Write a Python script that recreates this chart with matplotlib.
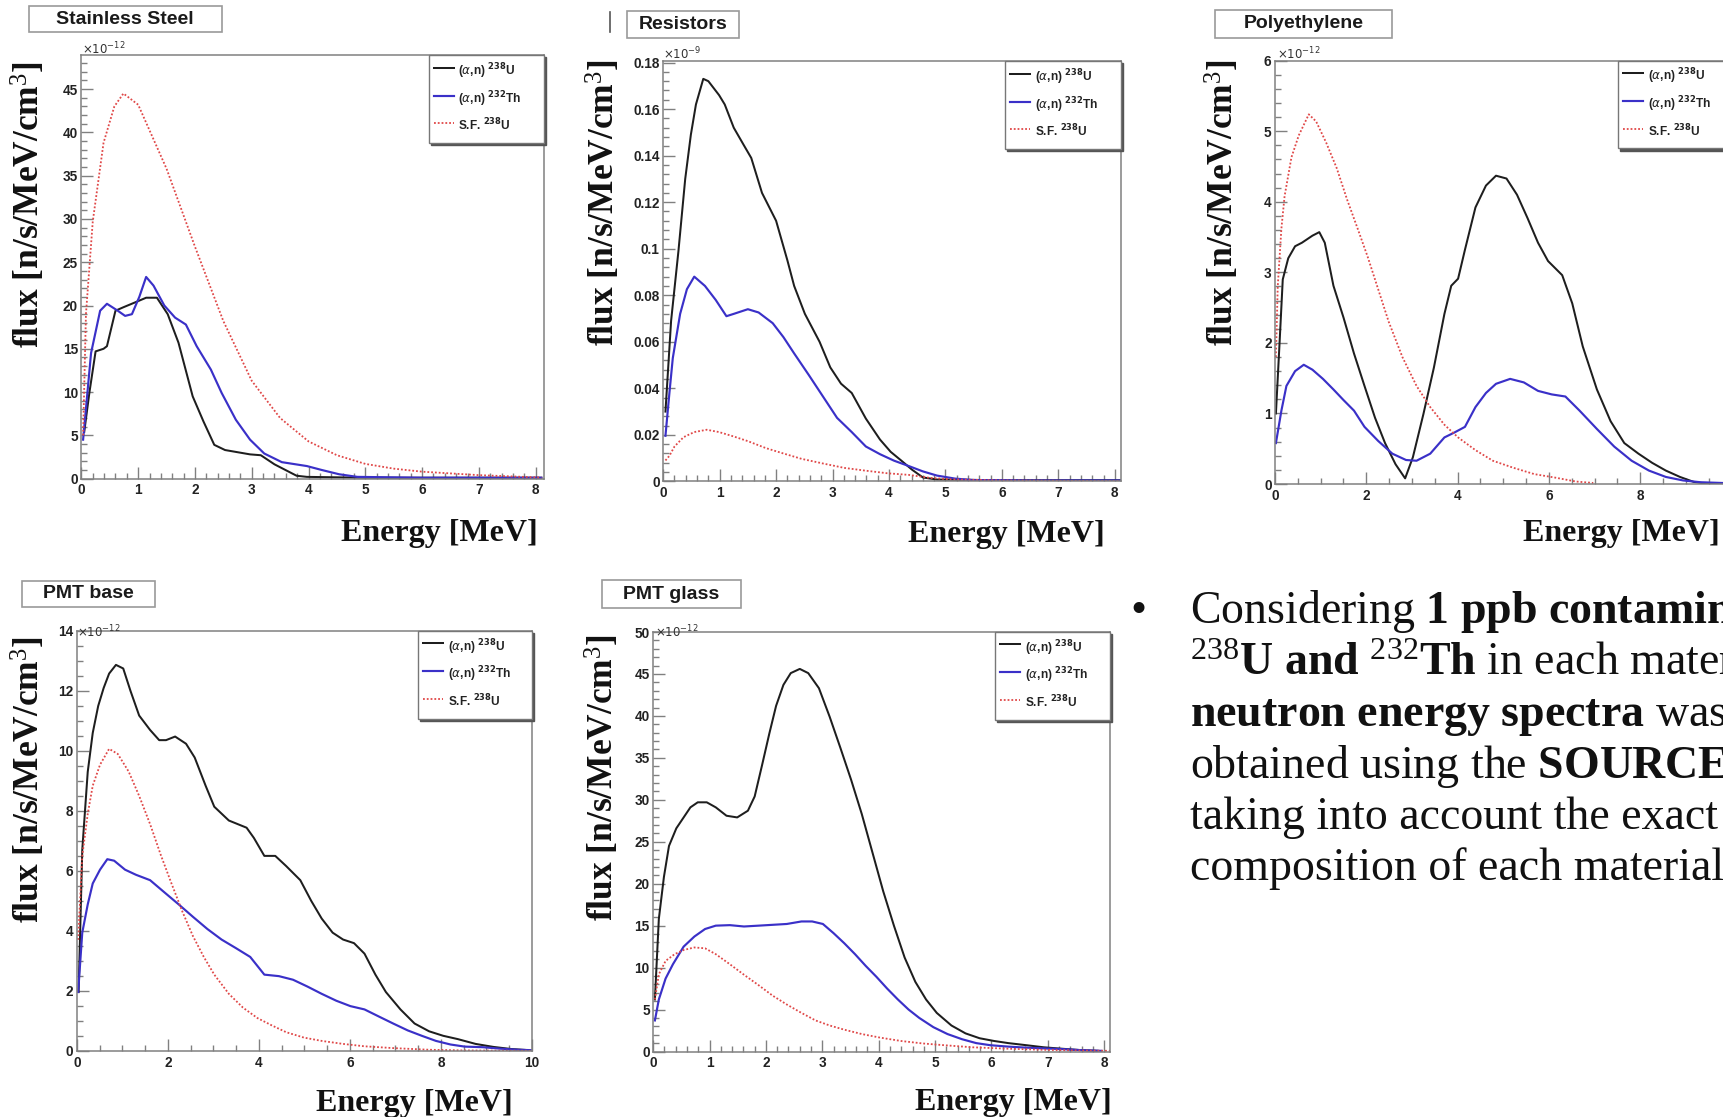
import matplotlib
matplotlib.use("Agg")
import matplotlib.pyplot as plt
from matplotlib.patches import Rectangle
from matplotlib.lines import Line2D
from matplotlib.ticker import MultipleLocator, FuncFormatter
from matplotlib.font_manager import FontProperties

plt.rcParams['mathtext.fontset'] = 'custom'
plt.rcParams['mathtext.rm'] = 'Liberation Serif'
plt.rcParams['mathtext.bf'] = 'Liberation Serif:bold'
plt.rcParams['mathtext.it'] = 'Liberation Serif:italic'
plt.rcParams['font.family'] = 'Liberation Sans'

# ---------------- data ----------------
series_labels = [r"($\alpha$,n) $^{\mathbf{238}}$U",
                 r"($\alpha$,n) $^{\mathbf{232}}$Th",
                 r"S.F. $^{\mathbf{238}}$U"]

# Stainless Steel (x1e-12)
ss_u238_E = [0.05, 0.14, 0.25, 0.39, 0.45, 0.60, 0.74, 0.96, 1.14, 1.33, 1.52, 1.71, 1.96, 2.15, 2.34, 2.53,
             2.97, 3.16, 3.40, 3.79, 3.97, 5.0, 6.0, 7.0, 8.1]
ss_u238 = [5.4, 9.9, 14.7, 15.0, 15.3, 19.4, 19.8, 20.4, 20.9, 20.9, 19.0, 15.7, 9.5, 6.6, 3.9, 3.3,
           2.8, 2.7, 1.65, 0.33, 0.2, 0.1, 0.1, 0.1, 0.1]
ss_th232_E = [0.03, 0.17, 0.33, 0.45, 0.64, 0.77, 0.89, 1.02, 1.14, 1.27, 1.46, 1.65, 1.84, 2.03, 2.28, 2.47,
              2.72, 2.97, 3.22, 3.53, 3.97, 4.23, 4.54, 4.86, 6.0, 7.0, 8.1]
ss_th232 = [4.5, 14.5, 19.4, 20.2, 19.4, 18.8, 19.0, 21.0, 23.3, 22.3, 20.0, 18.6, 17.8, 15.3, 12.6, 9.9,
            6.8, 4.5, 2.9, 1.9, 1.45, 1.0, 0.5, 0.2, 0.1, 0.1, 0.1]
ss_sf_E = [0.03, 0.08, 0.2, 0.39, 0.58, 0.74, 1.0, 1.25, 1.5, 2.0, 2.5, 3.0, 3.5, 4.0, 4.5, 5.0, 5.5, 6.0, 7.0, 8.1]
ss_sf = [5.0, 19.0, 29.7, 38.8, 43.0, 44.5, 43.2, 39.5, 35.8, 26.8, 18.2, 11.3, 7.0, 4.3, 2.7, 1.7, 1.15, 0.8, 0.4, 0.12]

# Resistors (x1e-9)
res_u238_E = [0.04, 0.14, 0.27, 0.39, 0.49, 0.58, 0.71, 0.80, 0.99, 1.09, 1.25, 1.44, 1.56, 1.75, 2.0, 2.2,
              2.32, 2.51, 2.77, 2.96, 3.15, 3.34, 3.59, 3.84, 4.03, 4.22, 4.41, 4.6, 4.85, 6.0, 8.1]
res_u238 = [0.030, 0.069, 0.099, 0.130, 0.149, 0.162, 0.173, 0.172, 0.166, 0.162, 0.152, 0.144, 0.139, 0.124,
            0.112, 0.095, 0.084, 0.072, 0.060, 0.049, 0.042, 0.038, 0.027, 0.018, 0.0127, 0.0089, 0.005,
            0.0017, 0.0008, 0.0005, 0.0005]
res_th232_E = [0.04, 0.11, 0.17, 0.3, 0.42, 0.55, 0.74, 0.93, 1.12, 1.25, 1.5, 1.69, 1.94, 2.13, 2.32, 2.58,
               2.83, 3.08, 3.34, 3.59, 3.84, 4.09, 4.35, 4.6, 4.85, 5.17, 5.49, 6.5, 8.1]
res_th232 = [0.0196, 0.038, 0.053, 0.072, 0.0826, 0.088, 0.084, 0.078, 0.071, 0.072, 0.074, 0.0726, 0.068,
             0.062, 0.055, 0.0457, 0.0365, 0.0273, 0.0212, 0.015, 0.0117, 0.0089, 0.0066, 0.0043, 0.0025,
             0.0012, 0.0006, 0.0004, 0.0004]
res_sf_E = [0.04, 0.11, 0.2, 0.36, 0.55, 0.77, 0.99, 1.25, 1.5, 1.82, 2.13, 2.45, 2.83, 3.21, 3.59, 3.97, 4.35,
            4.73, 5.1, 6.0, 8.1]
res_sf = [0.009, 0.011, 0.015, 0.019, 0.0212, 0.0222, 0.0212, 0.0193, 0.0173, 0.0143, 0.012, 0.0097, 0.0077,
          0.0058, 0.0046, 0.0035, 0.0028, 0.0015, 0.0009, 0.0004, 0.0001]

# Polyethylene (x1e-12)
poly_u238_E = [0.02, 0.10, 0.17, 0.29, 0.44, 0.59, 0.82, 0.97, 1.09, 1.28, 1.5, 1.73, 1.96, 2.19, 2.41, 2.64,
               2.85, 3.02, 3.25, 3.48, 3.71, 3.86, 4.01, 4.16, 4.39, 4.62, 4.84, 5.07, 5.3, 5.53, 5.76, 5.98,
               6.29, 6.51, 6.74, 7.05, 7.35, 7.65, 7.96, 8.26, 8.56, 8.87, 9.17, 9.5, 10.0]
poly_u238 = [1.0, 2.0, 2.9, 3.2, 3.37, 3.42, 3.52, 3.57, 3.42, 2.81, 2.36, 1.85, 1.39, 0.94, 0.58, 0.28,
             0.08, 0.38, 0.99, 1.65, 2.41, 2.81, 2.91, 3.32, 3.92, 4.23, 4.37, 4.33, 4.1, 3.77, 3.42, 3.16,
             2.96, 2.56, 1.95, 1.34, 0.89, 0.58, 0.43, 0.3, 0.19, 0.1, 0.03, 0.0, 0.0]
poly_th232_E = [0.02, 0.14, 0.25, 0.44, 0.63, 0.82, 1.05, 1.28, 1.5, 1.73, 1.96, 2.26, 2.57, 2.87, 3.1, 3.4,
                3.71, 3.93, 4.16, 4.39, 4.62, 4.84, 5.15, 5.45, 5.76, 6.06, 6.36, 6.67, 7.05, 7.43, 7.81,
                8.19, 8.56, 8.94, 9.32, 10.0]
poly_th232 = [0.58, 1.04, 1.39, 1.6, 1.69, 1.62, 1.49, 1.34, 1.19, 1.04, 0.81, 0.61, 0.43, 0.34, 0.33, 0.43,
              0.66, 0.73, 0.81, 1.09, 1.29, 1.42, 1.49, 1.44, 1.32, 1.27, 1.24, 1.04, 0.78, 0.53, 0.33,
              0.19, 0.1, 0.05, 0.025, 0.01]
poly_sf_E = [0.02, 0.06, 0.14, 0.21, 0.36, 0.52, 0.74, 0.9, 1.12, 1.35, 1.58, 1.81, 2.03, 2.26, 2.49, 2.79,
             3.1, 3.4, 3.71, 4.01, 4.39, 4.77, 5.22, 5.68, 6.14, 6.59, 6.97]
poly_sf = [1.8, 2.8, 3.62, 4.08, 4.63, 4.94, 5.24, 5.14, 4.84, 4.48, 4.03, 3.62, 3.22, 2.76, 2.3, 1.8,
           1.39, 1.09, 0.84, 0.66, 0.48, 0.33, 0.23, 0.14, 0.09, 0.035, 0.015]

# PMT base (x1e-12)
pb_u238_E = [0.04, 0.12, 0.24, 0.35, 0.47, 0.59, 0.71, 0.86, 1.02, 1.18, 1.37, 1.61, 1.81, 1.96, 2.16, 2.4,
             2.59, 2.83, 3.02, 3.34, 3.73, 3.89, 4.12, 4.36, 4.6, 4.91, 5.15, 5.38, 5.62, 5.85, 6.09, 6.32,
             6.56, 6.79, 7.11, 7.42, 7.74, 8.05, 8.37, 8.76, 9.15, 9.54, 9.94]
pb_u238 = [1.96, 6.7, 9.3, 10.6, 11.5, 12.1, 12.58, 12.87, 12.75, 12.0, 11.18, 10.7, 10.36, 10.36, 10.48,
           10.24, 9.78, 8.84, 8.14, 7.68, 7.44, 7.1, 6.5, 6.5, 6.16, 5.69, 5.0, 4.41, 3.94, 3.71, 3.59, 3.24,
           2.54, 1.96, 1.38, 0.91, 0.65, 0.5, 0.39, 0.23, 0.13, 0.06, 0.02]
pb_th232_E = [0.03, 0.12, 0.24, 0.35, 0.51, 0.67, 0.82, 1.06, 1.3, 1.61, 1.92, 2.24, 2.55, 2.87, 3.18, 3.5,
              3.81, 4.12, 4.44, 4.75, 5.07, 5.38, 5.7, 6.01, 6.32, 6.64, 6.95, 7.27, 7.58, 7.89, 8.21, 8.52,
              8.92, 9.31, 9.7, 10.0]
pb_th232 = [1.96, 3.94, 4.88, 5.58, 6.04, 6.39, 6.34, 6.04, 5.87, 5.69, 5.29, 4.88, 4.47, 4.06, 3.71, 3.42,
            3.13, 2.54, 2.49, 2.37, 2.14, 1.9, 1.67, 1.49, 1.38, 1.14, 0.91, 0.68, 0.5, 0.33, 0.21, 0.14,
            0.12, 0.07, 0.035, 0.02]
pb_sf_E = [0.03, 0.12, 0.24, 0.35, 0.51, 0.71, 0.9, 1.14, 1.37, 1.61, 1.85, 2.08, 2.32, 2.55, 2.79, 3.02,
           3.34, 3.65, 3.97, 4.28, 4.6, 4.99, 5.38, 5.85, 6.32, 6.95, 7.74, 8.52, 10.0]
pb_sf = [3.7, 6.5, 7.9, 8.84, 9.54, 10.07, 9.9, 9.31, 8.5, 7.56, 6.51, 5.58, 4.64, 3.83, 3.13, 2.54,
         1.9, 1.44, 1.09, 0.85, 0.62, 0.44, 0.33, 0.23, 0.15, 0.09, 0.035, 0.012, 0.0]

# PMT glass (x1e-12)
pg_u238_E = [0.03, 0.1, 0.19, 0.28, 0.41, 0.54, 0.66, 0.79, 0.95, 1.11, 1.3, 1.49, 1.68, 1.8, 1.93, 2.06,
             2.18, 2.31, 2.44, 2.6, 2.75, 2.94, 3.13, 3.32, 3.51, 3.7, 3.89, 4.08, 4.27, 4.46, 4.65, 4.84,
             5.03, 5.29, 5.54, 5.79, 6.05, 6.3, 6.62, 6.93, 7.25, 7.57, 7.88]
pg_u238 = [6.2, 15.8, 20.8, 24.5, 26.6, 27.9, 29.1, 29.7, 29.7, 29.1, 28.1, 27.9, 28.7, 30.4, 34.1, 37.9,
           41.2, 43.7, 45.1, 45.6, 45.1, 43.3, 39.9, 36.2, 32.4, 28.3, 23.7, 19.1, 15.0, 11.2, 8.3, 6.2,
           4.6, 3.1, 2.16, 1.58, 1.25, 1.0, 0.75, 0.5, 0.33, 0.17, 0.08]
pg_th232_E = [0.03, 0.1, 0.22, 0.35, 0.54, 0.73, 0.92, 1.11, 1.36, 1.61, 1.87, 2.12, 2.37, 2.63, 2.82, 3.01,
              3.2, 3.39, 3.58, 3.77, 3.96, 4.15, 4.34, 4.53, 4.72, 4.97, 5.22, 5.48, 5.73, 5.98, 6.3, 6.62,
              6.93, 7.25, 7.57, 7.95]
pg_th232 = [3.7, 6.2, 8.7, 10.4, 12.5, 13.7, 14.6, 15.0, 15.06, 14.9, 15.0, 15.1, 15.2, 15.5, 15.5, 15.2,
            14.1, 12.9, 11.6, 10.2, 8.9, 7.5, 6.2, 5.0, 4.0, 2.9, 2.08, 1.46, 1.0, 0.75, 0.58, 0.46,
            0.37, 0.29, 0.17, 0.08]
pg_sf_E = [0.03, 0.1, 0.22, 0.38, 0.54, 0.73, 0.92, 1.11, 1.36, 1.61, 1.87, 2.12, 2.37, 2.63, 2.88, 3.13,
           3.39, 3.7, 4.02, 4.4, 4.78, 5.16, 5.67, 6.3, 6.93, 7.57, 8.1]
pg_sf = [6.2, 9.2, 10.8, 11.6, 12.1, 12.4, 12.3, 11.6, 10.4, 9.15, 7.9, 6.65, 5.6, 4.6, 3.7, 3.1,
         2.6, 2.08, 1.66, 1.25, 0.96, 0.75, 0.5, 0.33, 0.2, 0.12, 0.08]

panel_titles = ["Stainless Steel", "Resistors", "Polyethylene", "PMT base", "PMT glass"]
panel_exponents = [r"$\times10^{-12}$", r"$\times10^{-9}$", r"$\times10^{-12}$",
                   r"$\times10^{-12}$", r"$\times10^{-12}$"]
x_label = "Energy [MeV]"
y_label = r"flux [n/s/MeV/cm$^{3}$]"

text_lines = [
    r"Considering $\mathbf{1}$ $\mathbf{ppb}$ $\mathbf{contamination}$",
    r"$^{238}$$\mathbf{U}$ $\mathbf{and}$ $^{232}$$\mathbf{Th}$ in each material,",
    r"$\mathbf{neutron}$ $\mathbf{energy}$ $\mathbf{spectra}$ was",
    r"obtained using the $\mathbf{SOURCES}$",
    r"taking into account the exact",
    r"composition of each material.",
]

# ---------------- layout / style ----------------
W, H = 1724, 1117
fig = plt.figure(figsize=(W / 100, H / 100), dpi=100)
fig.patch.set_facecolor("white")


def fx(px):
    return px / W


def fy(py):
    return 1 - py / H


COL_U = "#1e1e1e"
COL_TH = "#3a30c8"
COL_SF = "#e04848"
GRAY = "#808080"

panels = [
    dict(series=[(ss_u238_E, ss_u238), (ss_th232_E, ss_th232), (ss_sf_E, ss_sf)],
         ax_px=(81.4, 55.4, 543.6, 478.6), xmax=8.14, ymax=48.9,
         xmaj=1, xmin=0.2, ymaj=5, ymin=1,
         title_px=(28.6, 6.4, 222, 32), leg_px=(428.6, 162.5),
         xlab=(537.5, 541), ylab=(28.6, 61), expo=(82, 54)),
    dict(series=[(res_u238_E, res_u238), (res_th232_E, res_th232), (res_sf_E, res_sf)],
         ax_px=(663.2, 61.4, 1121, 481.4), xmax=8.11, ymax=0.1805,
         xmaj=1, xmin=0.2, ymaj=0.02, ymin=0.004,
         title_px=(627.5, 10.7, 739, 37.5), leg_px=(1005, 166),
         xlab=(1105, 542), ylab=(604, 59), expo=(663, 59.5)),
    dict(series=[(poly_u238_E, poly_u238), (poly_th232_E, poly_th232), (poly_sf_E, poly_sf)],
         ax_px=(1275, 60.7, 1731.6, 484), xmax=10, ymax=6,
         xmaj=2, xmin=0.5, ymaj=1, ymin=0.2,
         title_px=(1214.7, 10, 1392, 37.5), leg_px=(1618, 166),
         xlab=(1719.6, 541), ylab=(1223, 59), expo=(1277, 59.5)),
    dict(series=[(pb_u238_E, pb_u238), (pb_th232_E, pb_th232), (pb_sf_E, pb_sf)],
         ax_px=(76.8, 631, 532, 1050.8), xmax=10, ymax=14,
         xmaj=2, xmin=0.5, ymaj=2, ymin=0.5,
         title_px=(22.5, 580.5, 155, 606.6), leg_px=(418, 736.8),
         xlab=(512.5, 1111), ylab=(28.6, 636), expo=(77, 637)),
    dict(series=[(pg_u238_E, pg_u238), (pg_th232_E, pg_th232), (pg_sf_E, pg_sf)],
         ax_px=(653.2, 632, 1110.4, 1051.5), xmax=8.11, ymax=50,
         xmaj=1, xmin=0.2, ymaj=5, ymin=1,
         title_px=(602, 580.5, 740.7, 608.4), leg_px=(995, 736.8),
         xlab=(1112, 1110), ylab=(602.5, 634.5), expo=(655, 637)),
]

styles = [dict(color=COL_U, lw=1.45, ls="-"),
          dict(color=COL_TH, lw=1.55, ls="-"),
          dict(color=COL_SF, lw=1.3, ls=(0, (1, 1.1)))]

legprop = FontProperties(family="Liberation Sans", weight="bold", size=8.6, math_fontfamily="dejavusans")
fmt = FuncFormatter(lambda v, p: f"{v:g}")

for i, p in enumerate(panels):
    l, t, r, b = p["ax_px"]
    ax = fig.add_axes([fx(l), fy(b), (r - l) / W, (b - t) / H])
    ax.set_facecolor("white")
    lines = []
    for (E, F), st, lab in zip(p["series"], styles, series_labels):
        ln, = ax.plot(E, F, color=st["color"], lw=st["lw"], ls=st["ls"], label=lab)
        lines.append(ln)
    ax.set_xlim(0, p["xmax"])
    ax.set_ylim(0, p["ymax"])
    ax.xaxis.set_major_locator(MultipleLocator(p["xmaj"]))
    ax.xaxis.set_minor_locator(MultipleLocator(p["xmin"]))
    ax.yaxis.set_major_locator(MultipleLocator(p["ymaj"]))
    ax.yaxis.set_minor_locator(MultipleLocator(p["ymin"]))
    ax.xaxis.set_major_formatter(fmt)
    ax.yaxis.set_major_formatter(fmt)
    ax.tick_params(which="both", direction="in", color=GRAY, width=1.0, top=False, right=False,
                   labelsize=9.8, labelcolor="#222222")
    ax.tick_params(which="major", length=8.5)
    ax.tick_params(which="minor", length=4.3)
    ax.tick_params(axis="x", pad=3.5)
    ax.tick_params(axis="y", pad=2.5)
    for s in ax.spines.values():
        s.set_color(GRAY)
        s.set_linewidth(1.1)
    for labl in ax.get_xticklabels() + ax.get_yticklabels():
        labl.set_fontweight("bold")

    # axis labels
    ax.set_xlabel(x_label, fontsize=23, fontweight="bold", family="Liberation Serif",
                  ha="right", va="baseline", color="#111111")
    ax.xaxis.set_label_coords(fx(p["xlab"][0]), fy(p["xlab"][1]), transform=fig.transFigure)
    ax.set_ylabel(y_label, fontsize=25.5, fontweight="bold", family="Liberation Serif",
                  ha="right", va="center", color="#111111")
    ax.yaxis.set_label_coords(fx(p["ylab"][0]), fy(p["ylab"][1]), transform=fig.transFigure)

    # legend
    lg_l, lg_b = p["leg_px"]
    bb = ((lg_l - l) / (r - l), (b - lg_b) / (b - t), (r - lg_l) / (r - l), (lg_b - t) / (b - t))
    leg = ax.legend(handles=lines, loc="upper left", bbox_to_anchor=bb, mode="expand",
                    borderaxespad=0, borderpad=0.42, handleheight=2.5, labelspacing=0.45,
                    handlelength=1.7, handletextpad=0.35, prop=legprop, fancybox=False,
                    framealpha=1, edgecolor="#777777",
                    shadow={"ox": 1.5, "oy": -1.5, "facecolor": "#555555",
                            "edgecolor": "#555555", "alpha": 1})
    leg.get_frame().set_linewidth(1.0)
    for txt in leg.get_texts():
        txt.set_color("#222222")

    # exponent
    fig.text(fx(p["expo"][0]), fy(p["expo"][1]), panel_exponents[i], fontsize=8.5,
             ha="left", va="baseline", color="#333333", math_fontfamily="dejavusans")

    # title box
    tl, tt, tr, tb = p["title_px"]
    fig.add_artist(Rectangle((fx(tl), fy(tb)), (tr - tl) / W, (tb - tt) / H,
                             transform=fig.transFigure, facecolor="white",
                             edgecolor="#9a9a9a", lw=1.2))
    fig.text(fx((tl + tr) / 2), fy((tt + tb) / 2), panel_titles[i], ha="center", va="center",
             fontsize=14, fontweight="bold", family="Liberation Sans", color="#1a1a1a")

# small frame fragment left of the Resistors title
fig.add_artist(Line2D([fx(610), fx(610)], [fy(12), fy(32)], transform=fig.transFigure,
                      color="#555555", lw=1.2))

# ---------------- text block ----------------
tx = 1190
base0 = 623
dl = 51.5
fig.text(fx(1138), fy(base0), "\u2022", ha="center", va="baseline", fontsize=33,
         family="Liberation Serif", color="#111111")
for k, s in enumerate(text_lines):
    fig.text(fx(tx), fy(base0 + k * dl), s, ha="left", va="baseline", fontsize=33,
             family="Liberation Serif", fontweight="normal", color="#111111")

fig.savefig("out.png", dpi=100, facecolor="white")
